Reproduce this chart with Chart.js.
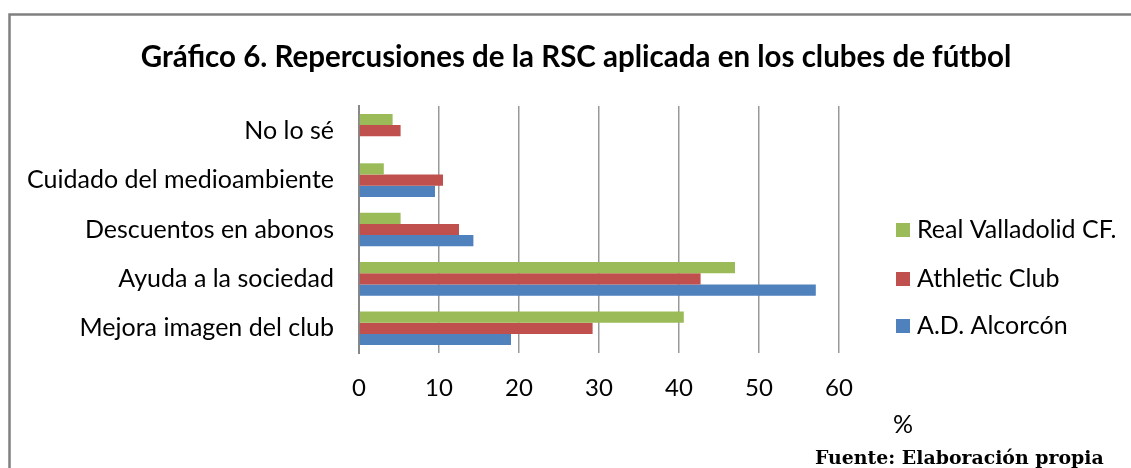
<!DOCTYPE html>
<html>
<head>
<meta charset="utf-8">
<script src="https://cdn.jsdelivr.net/npm/chart.js@4"></script>
<style>
  html, body { margin: 0; padding: 0; background: #fff; }
  #wrap { position: relative; width: 1131px; height: 468px; }
</style>
</head>
<body>
<div id="wrap"><canvas id="chartCanvas" width="1131" height="468"></canvas></div>
<script>
// Categories (top to bottom)
const categories = ['No lo sé', 'Cuidado del medioambiente', 'Descuentos en abonos', 'Ayuda a la sociedad', 'Mejora imagen del club'];
// Series values (%)
const valladolid = [4.2, 3.1, 5.2, 47.0, 40.6];
const athletic = [5.2, 10.5, 12.5, 42.7, 29.2];
const alcorcon = [0, 9.5, 14.3, 57.1, 19.0];
const seriesNames = ['Real Valladolid CF.', 'Athletic Club', 'A.D. Alcorcón'];
const xTicks = [0, 10, 20, 30, 40, 50, 60];
const chartTitle = 'Gráfico 6. Repercusiones de la RSC aplicada en los clubes de fútbol';

const colors = ['#9BBB59', '#C0504D', '#4F81BD'];
const labelFont = "'Lato', 'Open Sans', sans-serif";

// Frame, title, legend and footnotes
const extras = {
    id: 'extras',
    afterDraw(chart) {
        const ctx = chart.ctx;
        ctx.save();
        // frame
        ctx.strokeStyle = '#808080';
        ctx.lineWidth = 2.5;
        ctx.beginPath();
        ctx.moveTo(9.5, 468);
        ctx.lineTo(9.5, 14.5);
        ctx.lineTo(1131, 14.5);
        ctx.stroke();

        // title
        ctx.fillStyle = '#000';
        ctx.font = 'bold 29.5px ' + labelFont;
        ctx.textAlign = 'center';
        ctx.textBaseline = 'middle';
        ctx.fillText(chartTitle, 576, 57);

        // legend
        const rows = [230, 279, 326];
        ctx.font = '25px ' + labelFont;
        ctx.textAlign = 'left';
        chart.data.datasets.forEach((ds, i) => {
            ctx.fillStyle = ds.backgroundColor;
            ctx.fillRect(896, rows[i] - 7, 14, 14);
            ctx.fillStyle = '#000';
            ctx.fillText(ds.label, 917, rows[i]);
        });

        // unit
        ctx.textAlign = 'center';
        ctx.fillText('%', 903, 425);

        // source
        ctx.font = "bold 16px 'DejaVu Serif', serif";
        const txt = 'Fuente: Elaboración propia';
        const w = ctx.measureText(txt).width;
        const size = 16 * 289 / w;
        ctx.font = "bold " + size.toFixed(1) + "px 'DejaVu Serif', serif";
        ctx.textAlign = 'left';
        ctx.textBaseline = 'alphabetic';
        ctx.fillText(txt, 815, 464);
        ctx.restore();
    }
};

const config = {
    type: 'bar',
    data: {
        labels: categories,
        datasets: [
            { label: seriesNames[0], data: valladolid, backgroundColor: colors[0] },
            { label: seriesNames[1], data: athletic, backgroundColor: colors[1] },
            { label: seriesNames[2], data: alcorcon, backgroundColor: colors[2] }
        ]
    },
    options: {
        indexAxis: 'y',
        responsive: false,
        animation: false,
        layout: {
            padding: { left: 0, right: 292, top: 106, bottom: 0 }
        },
        datasets: {
            bar: {
                categoryPercentage: 0.68,
                barPercentage: 1.0
            }
        },
        plugins: {
            legend: { display: false },
            tooltip: { enabled: false },
            title: { display: false }
        },
        scales: {
            x: {
                min: 0,
                max: 60,
                afterBuildTicks: (scale) => {
                    scale.ticks = xTicks.map(v => ({ value: v }));
                },
                afterFit: (scale) => { scale.height = 115; },
                grid: {
                    color: '#999',
                    lineWidth: 1.5,
                    drawTicks: false
                },
                border: { display: false },
                ticks: {
                    color: '#000',
                    padding: 21,
                    font: { family: labelFont, size: 24 }
                }
            },
            y: {
                afterFit: (scale) => { scale.width = 359; },
                grid: { display: false, drawTicks: false },
                border: { display: true, color: '#888', width: 2 },
                ticks: {
                    color: '#000',
                    padding: 25,
                    font: { family: labelFont, size: 25 }
                }
            }
        }
    },
    plugins: [extras]
};

const ctx = document.getElementById('chartCanvas').getContext('2d');
const chart = new Chart(ctx, config);
</script>
</body>
</html>
